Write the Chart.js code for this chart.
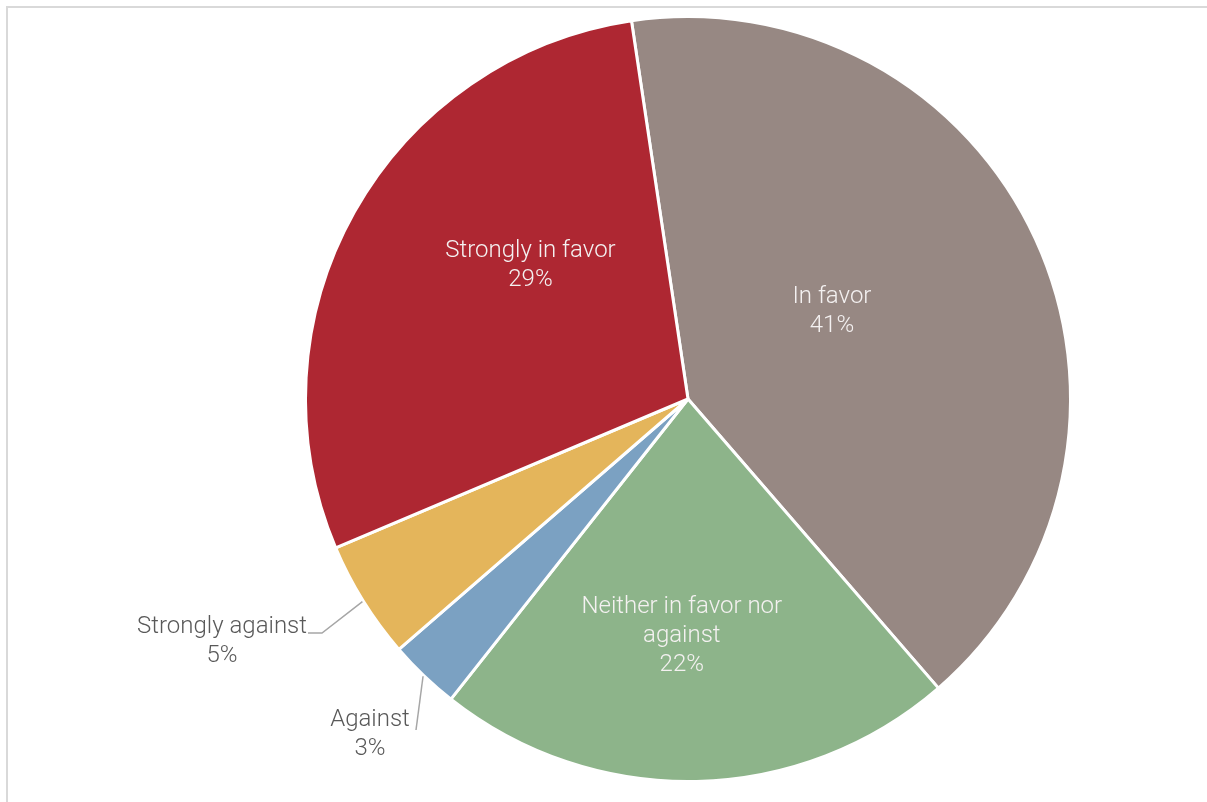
<!DOCTYPE html>
<html>
<head>
<meta charset="utf-8">
<title>Opinion survey</title>
<script src="https://cdn.jsdelivr.net/npm/chart.js@4.4.1/dist/chart.umd.min.js"></script>
<style>
  html, body { margin: 0; padding: 0; background: #ffffff; overflow: hidden; }
  #wrap { position: relative; width: 1207px; height: 802px; }
  #frame { position: absolute; left: 6px; top: 6px; width: 1220px; height: 820px;
           border: 2px solid #d9d9d9; box-sizing: border-box; }
  canvas { position: absolute; left: 0; top: 0; }
</style>
</head>
<body>
<div id="wrap">
  <div id="frame"></div>
  <canvas id="pie" width="1207" height="802"></canvas>
</div>
<script>
// Survey answers, clockwise from the top
const categories = ['In favor', 'Neither in favor nor against', 'Against', 'Strongly against', 'Strongly in favor'];
const shares = [41, 22, 3, 5, 29];
const sliceColors = ['#978883', '#8db48a', '#7ba1c2', '#e4b55b', '#ae2732'];

// Label wrapping (category text split into lines)
const labelLines = [
  ['In favor'],
  ['Neither in favor nor', 'against'],
  ['Against'],
  ['Strongly against'],
  ['Strongly in favor']
];

// How each label is placed: inside the slice (radius fraction + angle nudge in degrees)
// or outside with a leader line ending at the text
const labelPlacement = [
  { inside: true, frac: 0.44, dAng: -6.5 },
  { inside: true, frac: 0.62, dAng: 2.8 },
  { inside: false, textX: 370, textY: 720, elbow: null, lineEndX: 416, lineEndY: 730 },
  { inside: false, textX: 222, textY: 627, elbow: [322, 633], lineEndX: 308, lineEndY: 633 },
  { inside: true, frac: 0.54, dAng: 11 }
];

const FONT = '300 24px Roboto';
const LINE_H = 29;

const sliceLabels = {
  id: 'sliceLabels',
  afterDatasetsDraw(chart) {
    const ctx = chart.ctx;
    const meta = chart.getDatasetMeta(0);
    ctx.save();
    ctx.font = FONT;
    ctx.textAlign = 'center';
    ctx.textBaseline = 'middle';
    meta.data.forEach((arc, i) => {
      const p = labelPlacement[i];
      const lines = labelLines[i].concat([shares[i] + '%']);
      const mid = (arc.startAngle + arc.endAngle) / 2;
      if (p.inside) {
        const a = mid + p.dAng * Math.PI / 180;
        const r = arc.outerRadius * p.frac;
        const cx = arc.x + Math.cos(a) * r;
        const cy = arc.y + Math.sin(a) * r;
        const top = cy - (lines.length - 1) * LINE_H / 2;
        ctx.fillStyle = '#f4f1f1';
        lines.forEach((t, k) => ctx.fillText(t, cx, top + k * LINE_H));
      } else {
        // leader line from the slice edge to the text
        const sx = arc.x + Math.cos(mid) * (arc.outerRadius + 1);
        const sy = arc.y + Math.sin(mid) * (arc.outerRadius + 1);
        ctx.strokeStyle = '#a6a6a6';
        ctx.lineWidth = 1.5;
        ctx.beginPath();
        ctx.moveTo(sx, sy);
        if (p.elbow) ctx.lineTo(p.elbow[0], p.elbow[1]);
        ctx.lineTo(p.lineEndX, p.lineEndY);
        ctx.stroke();
        ctx.fillStyle = '#595959';
        lines.forEach((t, k) => ctx.fillText(t, p.textX, p.textY + k * LINE_H));
      }
    });
    ctx.restore();
  }
};

new Chart(document.getElementById('pie'), {
  type: 'pie',
  data: {
    labels: categories,
    datasets: [{
      data: shares,
      backgroundColor: sliceColors,
      borderColor: '#ffffff',
      borderWidth: 3,
      hoverOffset: 0
    }]
  },
  options: {
    responsive: false,
    animation: false,
    rotation: -8.5,
    layout: { padding: { left: 304, right: 135, top: 15, bottom: 19 } },
    plugins: {
      legend: { display: false },
      tooltip: { enabled: false },
      title: { display: false }
    },
    events: []
  },
  plugins: [sliceLabels]
});
</script>
</body>
</html>
